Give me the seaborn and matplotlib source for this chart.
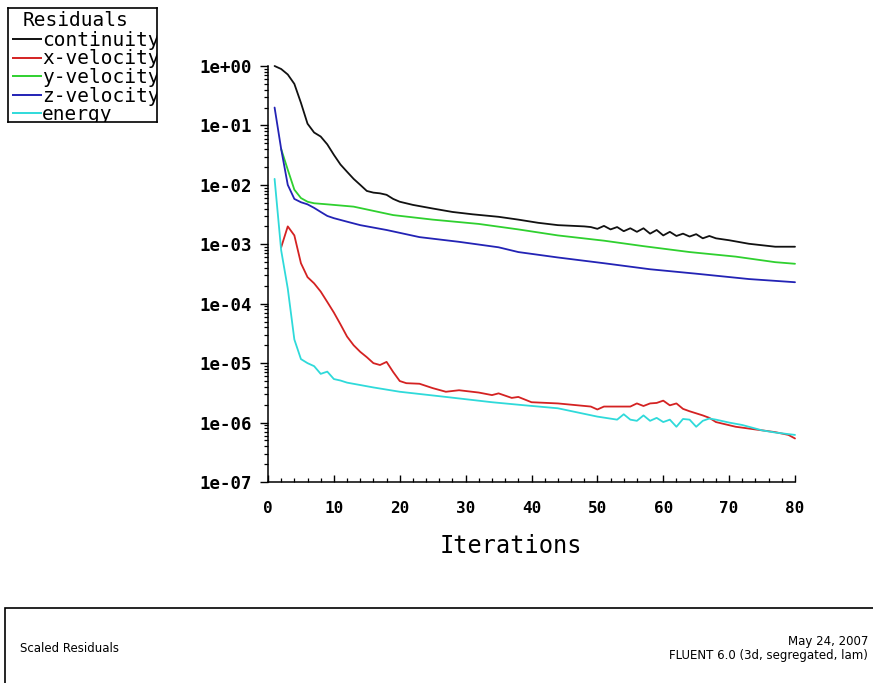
import matplotlib
matplotlib.use("Agg")
import numpy as np
import pandas as pd
import matplotlib.pyplot as plt
from matplotlib.patches import Rectangle
from matplotlib.ticker import LogLocator, MultipleLocator, FuncFormatter, NullFormatter
import seaborn as sns

# ---- residual history ------------------------------------------------------
series_names = ["continuity", "x-velocity", "y-velocity", "z-velocity", "energy"]
series_colors = ["#111111", "#d42222", "#2fd02f", "#2323b5", "#2fdada"]

continuity_iter = list(range(1, 21)) + [22, 25, 28, 31, 35, 38, 41, 44, 48] \
    + list(range(49, 69)) + [70, 73, 77, 80]
continuity_res = [1.0, 0.89, 0.72, 0.50, 0.24, 0.107, 0.076, 0.065, 0.048, 0.032,
                  0.022, 0.0166, 0.0126, 0.0100, 0.0079, 0.0074, 0.0072, 0.0068, 0.0058, 0.0052,
                  0.0046, 0.0040, 0.0035, 0.0032, 0.0029, 0.0026, 0.0023, 0.0021, 0.0020,
                  1.95e-3, 1.82e-3, 2.04e-3, 1.78e-3, 1.95e-3, 1.66e-3, 1.86e-3, 1.62e-3,
                  1.86e-3, 1.51e-3, 1.74e-3, 1.41e-3, 1.62e-3, 1.38e-3, 1.51e-3, 1.35e-3,
                  1.48e-3, 1.26e-3, 1.38e-3, 1.26e-3,
                  1.17e-3, 1.02e-3, 9.1e-4, 9.1e-4]

xvel_iter = [2, 3, 4, 5, 6, 7, 8, 9, 10, 11, 12, 13, 14, 15, 16, 17, 18, 19, 20, 21,
             23, 25, 27, 29, 32, 34, 35, 37, 38, 40, 44, 49, 50, 51, 55, 56, 57, 58,
             59, 60, 61, 62, 63, 64, 66, 67, 68, 71, 75, 77, 79, 80]
xvel_res = [8.9e-4, 2.0e-3, 1.41e-3, 4.8e-4, 2.8e-4, 2.2e-4, 1.6e-4, 1.07e-4, 7.1e-5, 4.5e-5,
            2.8e-5, 2.0e-5, 1.55e-5, 1.26e-5, 1.0e-5, 9.3e-6, 1.05e-5, 7.1e-6, 5.0e-6, 4.6e-6,
            4.5e-6, 3.8e-6, 3.3e-6, 3.5e-6, 3.2e-6, 2.9e-6, 3.1e-6, 2.6e-6, 2.7e-6, 2.2e-6,
            2.1e-6, 1.86e-6, 1.66e-6, 1.86e-6, 1.86e-6, 2.1e-6, 1.9e-6, 2.1e-6,
            2.14e-6, 2.34e-6, 1.95e-6, 2.1e-6, 1.70e-6, 1.55e-6, 1.32e-6, 1.20e-6, 1.02e-6,
            8.5e-7, 7.4e-7, 6.9e-7, 6.2e-7, 5.4e-7]

yvel_iter = [2, 3, 4, 5, 6, 7, 9, 13, 19, 25, 32, 38, 44, 51, 57, 64, 71, 77, 80]
yvel_res = [4.0e-2, 1.8e-2, 8.3e-3, 6.0e-3, 5.2e-3, 4.9e-3, 4.7e-3, 4.3e-3, 3.1e-3, 2.6e-3,
            2.2e-3, 1.78e-3, 1.41e-3, 1.15e-3, 9.3e-4, 7.4e-4, 6.2e-4, 5.0e-4, 4.7e-4]

zvel_iter = [1, 2, 3, 4, 5, 6, 7, 8, 9, 10, 12, 14, 18, 23, 29, 35, 38, 44, 51, 58, 65, 73, 80]
zvel_res = [0.20, 0.040, 0.010, 5.8e-3, 5.1e-3, 4.7e-3, 4.1e-3, 3.5e-3, 3.0e-3, 2.75e-3,
            2.4e-3, 2.1e-3, 1.74e-3, 1.32e-3, 1.10e-3, 8.9e-4, 7.4e-4, 6.0e-4, 4.8e-4,
            3.8e-4, 3.2e-4, 2.6e-4, 2.3e-4]

energy_iter = [1, 2, 3, 4, 5, 6, 7, 8, 9, 10, 11, 12, 16, 20, 27, 34, 39, 44, 47, 50,
               53, 54, 55, 56, 57, 58, 59, 60, 61, 62, 63, 64, 65, 66, 67, 68, 70, 72,
               75, 77, 80]
energy_res = [1.26e-2, 7.9e-4, 1.8e-4, 2.5e-5, 1.17e-5, 1.0e-5, 8.9e-6, 6.6e-6, 7.2e-6, 5.4e-6,
              5.1e-6, 4.7e-6, 3.9e-6, 3.3e-6, 2.7e-6, 2.2e-6, 1.95e-6, 1.74e-6, 1.48e-6, 1.26e-6,
              1.12e-6, 1.38e-6, 1.12e-6, 1.07e-6, 1.32e-6, 1.07e-6, 1.20e-6, 1.02e-6, 1.12e-6,
              8.5e-7, 1.15e-6, 1.12e-6, 8.5e-7, 1.07e-6, 1.17e-6, 1.12e-6, 1.0e-6, 9.1e-7,
              7.4e-7, 6.8e-7, 6.2e-7]

x_ticks = [0, 10, 20, 30, 40, 50, 60, 70, 80]

frames = []
for name, its, res in zip(series_names,
                          [continuity_iter, xvel_iter, yvel_iter, zvel_iter, energy_iter],
                          [continuity_res, xvel_res, yvel_res, zvel_res, energy_res]):
    frames.append(pd.DataFrame({"iteration": its, "residual": res, "series": name}))
df = pd.concat(frames, ignore_index=True)

# ---- figure ----------------------------------------------------------------
sns.set_theme(style="ticks")
plt.rcParams["font.family"] = ["DejaVu Sans Mono", "DejaVu Sans"]

W, H = 873, 683
fig = plt.figure(figsize=(W / 100, H / 100), dpi=100, facecolor="white")
ax = fig.add_axes([268 / W, 1 - 482 / H, 527 / W, 416 / H])
ax.set_facecolor("white")

palette = dict(zip(series_names, series_colors))
sns.lineplot(data=df, x="iteration", y="residual", hue="series", hue_order=series_names,
             palette=palette, estimator=None, sort=False, legend=False,
             linewidth=1.3, ax=ax)
for ln in ax.lines:
    ln.set_clip_on(False)

ax.set_yscale("log")
ax.set_ylim(1e-7, 1e0)
ax.set_xlim(0, 80)
ax.set_xticks(x_ticks)
ax.xaxis.set_minor_locator(MultipleLocator(2))
ax.yaxis.set_major_locator(LogLocator(base=10, numticks=10))
ax.yaxis.set_minor_locator(LogLocator(base=10, subs=np.arange(2, 10), numticks=20))
ax.yaxis.set_minor_formatter(NullFormatter())
ax.yaxis.set_major_formatter(FuncFormatter(
    lambda v, p: f"1e{int(round(np.log10(v))):+03d}"))

for side in ["top", "right"]:
    ax.spines[side].set_visible(False)
for side in ["left", "bottom"]:
    ax.spines[side].set_color("black")
    ax.spines[side].set_linewidth(1.1)

ax.tick_params(axis="y", which="major", direction="out", length=5.5, width=1.0,
               pad=6, labelsize=12.5, colors="black")
ax.tick_params(axis="y", which="minor", direction="out", length=3, width=0.9, colors="black")
ax.tick_params(axis="x", which="major", direction="in", length=5, width=1.0,
               pad=14, labelsize=11.5, colors="black")
ax.tick_params(axis="x", which="minor", direction="in", length=3, width=0.9, colors="black")
ax.set_xlabel("")
ax.set_ylabel("")
for lbl in ax.get_xticklabels() + ax.get_yticklabels():
    lbl.set_fontweight("bold")

fig.text(511 / W, 1 - 546 / H, "Iterations", ha="center", va="center",
         fontsize=17, color="black")

# ---- legend box ------------------------------------------------------------
lax = fig.add_axes([8 / W, 1 - 122 / H, 149 / W, 114 / H])
lax.set_xlim(0, 149)
lax.set_ylim(114, 0)
lax.set_xticks([])
lax.set_yticks([])
lax.set_facecolor("white")
for sp in lax.spines.values():
    sp.set_color("black")
    sp.set_linewidth(1.2)
lax.text(15, 12.5, "Residuals", ha="left", va="center", fontsize=14, color="black",
         clip_on=True)
row_y = [31, 49.5, 68, 86.5, 105]
for name, color, yy in zip(series_names, series_colors, row_y):
    lax.plot([4, 34], [yy, yy], color=color, lw=1.4, solid_capstyle="butt")
    lax.text(34, yy + 1.5, name, ha="left", va="center", fontsize=14, color="black",
             clip_on=True)

# ---- footer box ------------------------------------------------------------
fig.patches.append(Rectangle((5 / W, -0.1), 1.2, 0.1 + (1 - 608 / H), transform=fig.transFigure,
                             fill=False, edgecolor="black", linewidth=1.2))
fig.text(20 / W, 1 - 649 / H, "Scaled Residuals", ha="left", va="center",
         fontsize=8.5, family="DejaVu Sans", color="black")
fig.text(868 / W, 1 - 641 / H, "May 24, 2007", ha="right", va="center",
         fontsize=8.5, family="DejaVu Sans", color="black")
fig.text(868 / W, 1 - 656 / H, "FLUENT 6.0 (3d, segregated, lam)", ha="right", va="center",
         fontsize=8.5, family="DejaVu Sans", color="black")

fig.savefig("out.png", dpi=100, facecolor="white")
